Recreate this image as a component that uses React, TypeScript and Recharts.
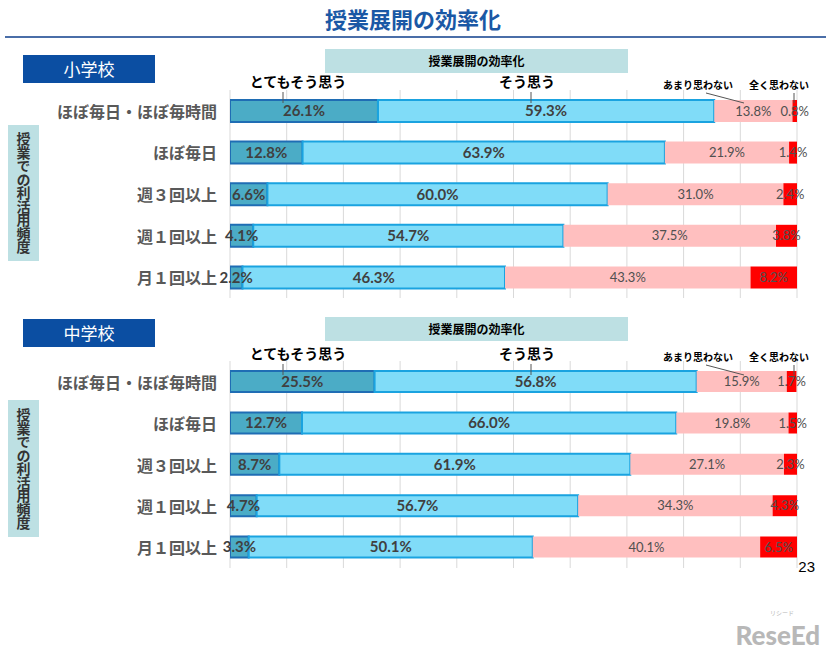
import React from 'react';
import { BarChart, Bar, XAxis, YAxis, CartesianGrid, LabelList } from 'recharts';

const categories = ['ほぼ毎日・ほぼ毎時間', 'ほぼ毎日', '週３回以上', '週１回以上', '月１回以上'];
const seriesNames = ['とてもそう思う', 'そう思う', 'あまり思わない', '全く思わない'];

// 小学校
const elemStrong = [26.1, 12.8, 6.6, 4.1, 2.2];
const elemAgree = [59.3, 63.9, 60.0, 54.7, 46.3];
const elemDisagree = [13.8, 21.9, 31.0, 37.5, 43.3];
const elemNone = [0.8, 1.4, 2.4, 3.8, 8.2];

// 中学校
const juniorStrong = [25.5, 12.7, 8.7, 4.7, 3.3];
const juniorAgree = [56.8, 66.0, 61.9, 56.7, 50.1];
const juniorDisagree = [15.9, 19.8, 27.1, 34.3, 40.1];
const juniorNone = [1.7, 1.5, 2.3, 4.3, 6.5];

const xTicks = [0, 10, 20, 30, 40, 50, 60, 70, 80, 90, 100];

const JP = '"Noto Sans CJK JP", "Noto Sans", sans-serif';
const NUM = 'Lato, "Open Sans", sans-serif';

const COLORS = {
  strong: '#4bacc6',
  strongEdge: '#1f6db4',
  agree: '#80dcf8',
  agreeEdge: '#1aa3e0',
  disagree: '#ffbfbf',
  none: '#ff0000',
};

const buildRows = (a: number[], b: number[], c: number[], d: number[]) =>
  categories.map((name, i) => ({ name, s1: a[i], s2: b[i], s3: c[i], s4: d[i] }));

const elemRows = buildRows(elemStrong, elemAgree, elemDisagree, elemNone);
const juniorRows = buildRows(juniorStrong, juniorAgree, juniorDisagree, juniorNone);

const pct = (v: any) => `${Number(v).toFixed(1)}%`;

const CategoryTick = ({ x, y, payload }: any) => (
  <text x={x} y={y} textAnchor="end" dominantBaseline="central" fill="#595959" fontSize={16} fontWeight={700} fontFamily={JP}>
    {payload.value}
  </text>
);

function FrequencyChart({ rows, height, barSize }: { rows: any[]; height: number; barSize: number }) {
  return (
    <BarChart width={826} height={height} data={rows} layout="vertical" margin={{ top: 0, right: 29, bottom: 0, left: 0 }}>
      <CartesianGrid horizontal={false} stroke="#d9d9d9" />
      <XAxis type="number" domain={[0, 100]} ticks={xTicks} hide allowDataOverflow />
      <YAxis type="category" dataKey="name" width={230} axisLine={false} tickLine={false} tickSize={0} tickMargin={13} tick={<CategoryTick />} />
      <Bar dataKey="s1" stackId="a" barSize={barSize} fill={COLORS.strong} stroke={COLORS.strongEdge} strokeWidth={2} isAnimationActive={false}>
        <LabelList dataKey="s1" position="center" formatter={pct} fill="#404040" fontSize={15} fontWeight={700} fontFamily={NUM} />
      </Bar>
      <Bar dataKey="s2" stackId="a" barSize={barSize} fill={COLORS.agree} stroke={COLORS.agreeEdge} strokeWidth={2} isAnimationActive={false}>
        <LabelList dataKey="s2" position="center" formatter={pct} fill="#404040" fontSize={15} fontWeight={700} fontFamily={NUM} />
      </Bar>
      <Bar dataKey="s3" stackId="a" barSize={barSize} fill={COLORS.disagree} isAnimationActive={false}>
        <LabelList dataKey="s3" position="center" formatter={pct} fill="#505050" fontSize={13} fontFamily={NUM} />
      </Bar>
      <Bar dataKey="s4" stackId="a" barSize={barSize} fill={COLORS.none} isAnimationActive={false}>
        <LabelList dataKey="s4" position="center" formatter={pct} fill="#505050" fontSize={13} fontFamily={NUM} />
      </Bar>
    </BarChart>
  );
}

const schoolBox = (label: string, top: number) => (
  <div style={{ position: 'absolute', left: 23, top, width: 132, height: 28, background: '#0b4ea2', color: '#fff', fontFamily: JP, fontSize: 17, lineHeight: '28px', textAlign: 'center' }}>
    {label}
  </div>
);

const headerBox = (top: number) => (
  <div style={{ position: 'absolute', left: 325, top, width: 303, height: 24, background: '#bde0e3', color: '#000', fontFamily: JP, fontSize: 12, fontWeight: 700, lineHeight: '24px', textAlign: 'center' }}>
    授業展開の効率化
  </div>
);

const sideBox = (top: number, height: number) => (
  <div style={{ position: 'absolute', left: 8, top, width: 31, height, background: '#bde0e3', display: 'flex', justifyContent: 'center', alignItems: 'center' }}>
    <span style={{ writingMode: 'vertical-rl', fontFamily: JP, fontSize: 14, fontWeight: 700, color: '#333', letterSpacing: -0.5 }}>授業での利活用頻度</span>
  </div>
);

// series names shown above each chart with short leader lines
const SeriesHeader = ({ top }: { top: number }) => (
  <g fontFamily={JP} fontWeight={700} fill="#000">
    <text x={298} y={top} textAnchor="middle" fontSize={14}>{seriesNames[0]}</text>
    <line x1={283} y1={top + 5} x2={283} y2={top + 16} stroke="#555" />
    <text x={527} y={top} textAnchor="middle" fontSize={14}>{seriesNames[1]}</text>
    <line x1={531} y1={top + 5} x2={531} y2={top + 16} stroke="#555" />
    <text x={698} y={top + 2} textAnchor="middle" fontSize={10}>{seriesNames[2]}</text>
    <line x1={706} y1={top + 6} x2={744} y2={top + 16} stroke="#555" />
    <text x={779} y={top + 2} textAnchor="middle" fontSize={10}>{seriesNames[3]}</text>
    <line x1={794} y1={top + 6} x2={794} y2={top + 16} stroke="#555" />
  </g>
);

export default function App() {
  return (
    <div style={{ position: 'absolute', left: 0, top: 0, width: 826, height: 656, background: '#fff', overflow: 'hidden' }}>
      <div style={{ position: 'absolute', left: 0, top: 0, width: 826, textAlign: 'center', fontFamily: JP, fontSize: 22, fontWeight: 700, color: '#1a58a5', lineHeight: '36px' }}>
        授業展開の効率化
      </div>
      <div style={{ position: 'absolute', left: 5, top: 36, width: 821, height: 2, background: '#4a6ea8' }} />

      {schoolBox('小学校', 55)}
      {headerBox(49)}
      {sideBox(125, 136)}
      <div style={{ position: 'absolute', left: 0, top: 90 }}>
        <FrequencyChart rows={elemRows} height={208} barSize={22} />
      </div>

      {schoolBox('中学校', 319)}
      {headerBox(317)}
      {sideBox(400, 137)}
      <div style={{ position: 'absolute', left: 0, top: 361 }}>
        <FrequencyChart rows={juniorRows} height={207} barSize={21} />
      </div>

      <svg width={826} height={656} style={{ position: 'absolute', left: 0, top: 0, pointerEvents: 'none' }}>
        <SeriesHeader top={87} />
        <SeriesHeader top={359} />
        <text x={815} y={572} textAnchor="end" fontFamily="Liberation Sans, Arial, sans-serif" fontSize={15} fill="#000">23</text>
        <text x={782} y={615} textAnchor="middle" fontFamily={JP} fontSize={6} fill="#b8b8b8">リシード</text>
        <text x={820} y={645} textAnchor="end" fontFamily="Lato, sans-serif" fontWeight={900} fontSize={26} fill="#b8b8b8">ReseEd</text>
      </svg>
    </div>
  );
}
